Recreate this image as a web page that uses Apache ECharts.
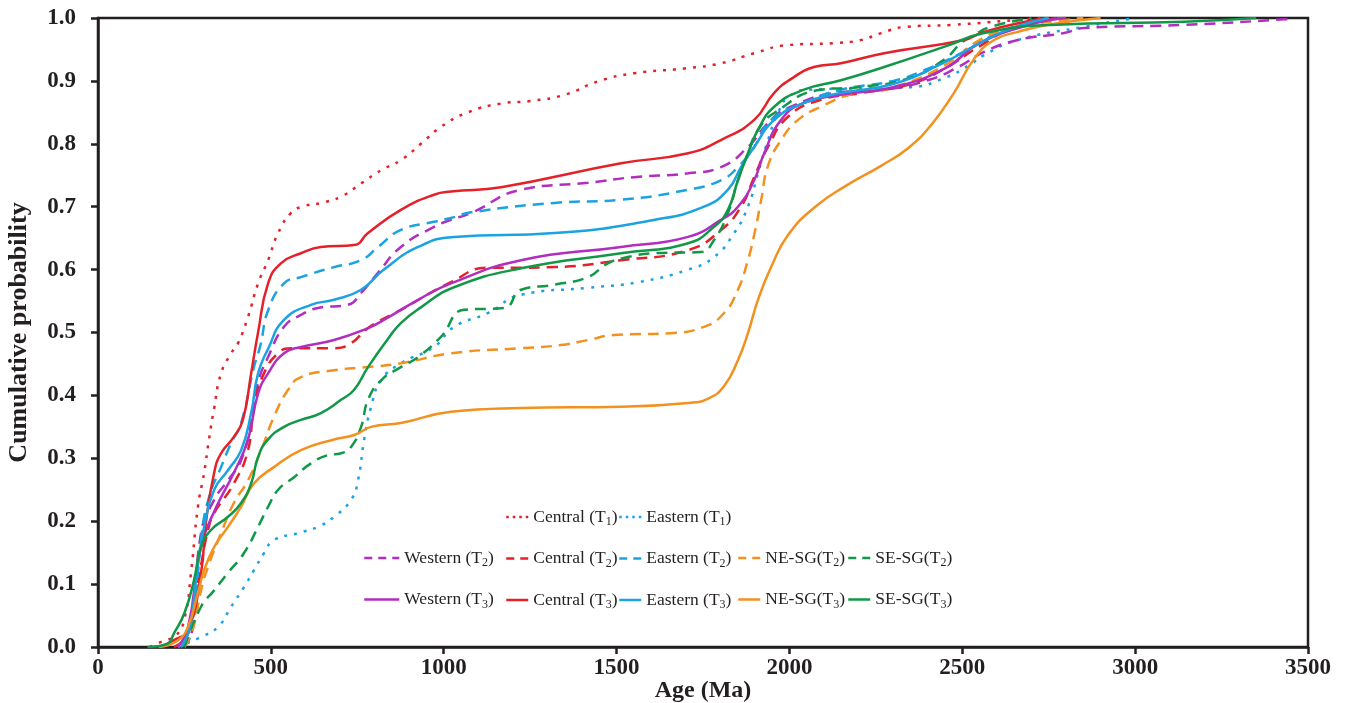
<!DOCTYPE html>
<html>
<head>
<meta charset="utf-8">
<script src="https://cdn.jsdelivr.net/npm/echarts@6/dist/echarts.min.js"></script>
<style>
  html, body { margin: 0; padding: 0; background: #fff; }
  #chart { width: 1347px; height: 703px; }
</style>
</head>
<body>
<div id="chart"></div>
<script>
// [age (Ma), cumulative probability]
const centralT1 = [[150,0],[190,0.01],[225,0.018],[250,0.045],[269,0.118],[289,0.223],[307,0.277],[321,0.33],[336,0.38],[356,0.435],[385,0.467],[405,0.483],[434,0.525],[463,0.578],[492,0.615],[521,0.658],[558,0.69],[590,0.70],[645,0.706],[703,0.716],[761,0.737],[819,0.758],[876,0.774],[934,0.80],[992,0.827],[1070,0.85],[1166,0.864],[1250,0.868],[1350,0.878],[1450,0.90],[1550,0.912],[1700,0.92],[1802,0.928],[1898,0.944],[1996,0.957],[2129,0.96],[2207,0.965],[2265,0.976],[2337,0.986],[2468,0.989],[2661,0.997],[2730,1]]
const easternT1 = [[231,0],[298,0.016],[347,0.032],[385,0.064],[422,0.095],[451,0.122],[480,0.149],[509,0.17],[578,0.181],[636,0.191],[683,0.207],[732,0.234],[752,0.265],[770,0.33],[790,0.382],[819,0.424],[876,0.451],[972,0.477],[1030,0.509],[1128,0.531],[1224,0.56],[1417,0.571],[1562,0.58],[1707,0.60],[1782,0.62],[1840,0.658],[1880,0.70],[1909,0.753],[1938,0.806],[1967,0.849],[1996,0.874],[2054,0.886],[2200,0.888],[2350,0.89],[2450,0.905],[2520,0.925],[2563,0.941],[2661,0.965],[2852,0.986],[3000,1]]
const westernT2 = [[240,0],[270,0.02],[298,0.181],[336,0.234],[376,0.265],[414,0.297],[443,0.356],[463,0.42],[492,0.461],[538,0.509],[587,0.528],[636,0.539],[723,0.544],[761,0.563],[810,0.595],[876,0.636],[972,0.668],[1021,0.679],[1079,0.69],[1224,0.727],[1417,0.738],[1550,0.747],[1707,0.753],[1802,0.763],[1880,0.795],[1938,0.833],[1996,0.857],[2149,0.882],[2274,0.886],[2400,0.901],[2488,0.922],[2563,0.946],[2661,0.965],[2794,0.976],[2852,0.984],[3141,0.989],[3431,0.998],[3460,1]]
const centralT2 = [[220,0],[260,0.02],[298,0.13],[320,0.19],[336,0.213],[393,0.26],[434,0.313],[451,0.382],[480,0.435],[521,0.467],[558,0.475],[683,0.475],[732,0.483],[781,0.507],[876,0.536],[1021,0.58],[1128,0.603],[1224,0.603],[1320,0.604],[1513,0.615],[1707,0.631],[1802,0.663],[1860,0.70],[1898,0.747],[1938,0.795],[1996,0.843],[2091,0.87],[2200,0.88],[2350,0.895],[2450,0.92],[2550,0.955],[2650,0.985],[2780,1]]
const easternT2 = [[250,0],[275,0.03],[298,0.17],[321,0.238],[356,0.286],[385,0.324],[414,0.356],[451,0.445],[470,0.48],[492,0.535],[538,0.578],[587,0.588],[683,0.604],[761,0.615],[810,0.636],[876,0.663],[972,0.676],[1021,0.682],[1079,0.691],[1320,0.706],[1513,0.711],[1707,0.727],[1802,0.742],[1851,0.763],[1898,0.795],[1947,0.838],[2042,0.865],[2149,0.886],[2300,0.9],[2390,0.917],[2500,0.945],[2600,0.975],[2700,0.993],[2800,1]]
const neT2 = [[250,0],[275,0.03],[298,0.09],[318,0.127],[356,0.181],[393,0.229],[434,0.265],[472,0.313],[509,0.366],[550,0.409],[587,0.429],[683,0.44],[781,0.445],[876,0.451],[1021,0.467],[1224,0.475],[1339,0.48],[1417,0.488],[1493,0.496],[1657,0.499],[1753,0.509],[1811,0.531],[1851,0.568],[1880,0.615],[1898,0.655],[1918,0.71],[1938,0.765],[1976,0.806],[2025,0.838],[2091,0.859],[2187,0.88],[2300,0.89],[2450,0.925],[2550,0.965],[2650,0.985],[2800,0.997],[2850,1]]
const seT2 = [[250,0],[298,0.064],[336,0.09],[376,0.118],[422,0.149],[463,0.191],[492,0.223],[521,0.25],[567,0.27],[616,0.292],[665,0.305],[703,0.308],[732,0.318],[761,0.35],[781,0.393],[819,0.424],[876,0.445],[926,0.461],[992,0.493],[1059,0.536],[1175,0.539],[1224,0.568],[1320,0.576],[1417,0.588],[1475,0.61],[1533,0.62],[1608,0.626],[1744,0.628],[1782,0.647],[1822,0.69],[1851,0.742],[1880,0.785],[1909,0.822],[1956,0.849],[2091,0.886],[2200,0.89],[2350,0.905],[2450,0.935],[2496,0.96],[2534,0.973],[2583,0.986],[2700,1]]
const westernT3 = [[230,0],[260,0.03],[298,0.159],[340,0.22],[393,0.277],[434,0.33],[463,0.403],[492,0.435],[538,0.467],[587,0.477],[683,0.488],[781,0.507],[827,0.52],[926,0.552],[1021,0.578],[1224,0.615],[1513,0.636],[1707,0.652],[1802,0.679],[1851,0.70],[1898,0.742],[1927,0.785],[1976,0.838],[2042,0.865],[2149,0.878],[2300,0.89],[2450,0.92],[2550,0.96],[2700,0.99],[2800,1]]
const centralT3 = [[180,0],[220,0.011],[260,0.027],[298,0.118],[312,0.197],[336,0.277],[356,0.308],[393,0.334],[419,0.361],[443,0.435],[463,0.5],[492,0.578],[529,0.61],[587,0.626],[645,0.636],[741,0.639],[781,0.658],[876,0.695],[972,0.719],[1021,0.724],[1166,0.731],[1513,0.769],[1707,0.785],[1802,0.806],[1898,0.838],[1956,0.881],[2013,0.906],[2071,0.922],[2149,0.928],[2274,0.944],[2505,0.965],[2563,0.978],[2708,0.997],[2750,1]]
const easternT3 = [[240,0],[265,0.03],[286,0.118],[307,0.191],[336,0.25],[376,0.281],[414,0.313],[443,0.372],[463,0.435],[492,0.474],[538,0.52],[616,0.544],[683,0.552],[761,0.568],[827,0.60],[926,0.636],[1030,0.652],[1320,0.658],[1608,0.679],[1753,0.70],[1822,0.727],[1860,0.763],[1898,0.795],[1956,0.838],[2042,0.865],[2149,0.881],[2300,0.895],[2450,0.93],[2550,0.96],[2650,0.985],[2750,1]]
const neT3 = [[175,0],[230,0.01],[260,0.032],[289,0.086],[307,0.122],[336,0.159],[376,0.191],[414,0.223],[451,0.26],[509,0.286],[587,0.313],[683,0.33],[741,0.337],[790,0.35],[876,0.356],[1021,0.374],[1224,0.38],[1513,0.382],[1707,0.388],[1765,0.395],[1811,0.415],[1851,0.456],[1880,0.499],[1909,0.552],[1947,0.604],[1996,0.655],[2075,0.70],[2169,0.735],[2265,0.765],[2343,0.793],[2410,0.83],[2476,0.881],[2534,0.935],[2592,0.965],[2661,0.978],[2757,0.99],[2900,1]]
const seT3 = [[143,0],[200,0.005],[220,0.022],[250,0.054],[278,0.107],[298,0.159],[327,0.186],[376,0.207],[414,0.229],[443,0.26],[463,0.302],[492,0.33],[538,0.35],[587,0.361],[645,0.372],[703,0.393],[741,0.409],[781,0.445],[839,0.49],[876,0.515],[934,0.54],[1030,0.572],[1224,0.602],[1513,0.626],[1707,0.642],[1782,0.668],[1822,0.695],[1851,0.742],[1880,0.785],[1909,0.822],[1956,0.859],[2042,0.886],[2149,0.901],[2274,0.922],[2447,0.954],[2563,0.976],[2757,0.989],[3141,0.994],[3350,1]]

const RED = "#e42128", BLUE = "#1ba3e1", PURPLE = "#b22dc0", ORANGE = "#f3911f", GREEN = "#109848"
const INK = "#231f20"
const DOT = [3, 7], DASH = [11, 7]

const defs = [
  ["Central (T1)", centralT1, RED, DOT],
  ["Eastern (T1)", easternT1, BLUE, DOT],
  ["Western (T2)", westernT2, PURPLE, DASH],
  ["Central (T2)", centralT2, RED, DASH],
  ["Eastern (T2)", easternT2, BLUE, DASH],
  ["NE-SG(T2)", neT2, ORANGE, DASH],
  ["SE-SG(T2)", seT2, GREEN, DASH],
  ["Western (T3)", westernT3, PURPLE, "solid"],
  ["Central (T3)", centralT3, RED, "solid"],
  ["Eastern (T3)", easternT3, BLUE, "solid"],
  ["NE-SG(T3)", neT3, ORANGE, "solid"],
  ["SE-SG(T3)", seT3, GREEN, "solid"]
]
const legendType = { [String(DOT)]: [2.5, 4], [String(DASH)]: [8, 6], solid: "solid" }

const series = defs.map(([name, data, color, type]) => ({
  name,
  type: "line",
  data,
  symbol: "none",
  smooth: 0.5,
  color,
  lineStyle: { color, width: 2.5, type }
}))

// 图例：每列一个
const legendItem = name => {
  const d = defs.find(x => x[0] === name)
  return { name, lineStyle: { type: legendType[String(d[3])], width: 2.5 } }
}
const legendCol = (left, top, names, itemWidth = 22) => ({
  orient: "vertical",
  left, top,
  padding: 0,
  itemGap: 21.5,
  itemWidth,
  itemHeight: 14,
  itemStyle: { opacity: 0 },
  selectedMode: false,
  data: names.map(legendItem),
  formatter: name => {
    const m = name.match(/^(.*\(T)(\d)(\))$/)
    return "{b|" + m[1] + "}{s|" + m[2] + "}{b|)}"
  },
  textStyle: {
    color: INK,
    fontFamily: "Liberation Serif",
    rich: {
      b: { fontSize: 17.5, lineHeight: 22, color: INK, fontFamily: "Liberation Serif" },
      s: { fontSize: 12, lineHeight: 12, color: INK, fontFamily: "Liberation Serif", verticalAlign: "bottom" }
    }
  }
})

const axisFont = { color: INK, fontFamily: "Liberation Serif", fontWeight: "bold", fontSize: 23 }

const chart = echarts.init(document.getElementById("chart"), null, { renderer: "canvas" })
chart.setOption({
  animation: false,
  backgroundColor: "#fff",
  grid: {
    left: 98, right: 39, top: 18, bottom: 56,
    outerBoundsMode: "none",
    show: true, borderColor: INK, borderWidth: 2.5
  },
  xAxis: {
    type: "value", min: 0, max: 3500, interval: 500,
    name: "Age (Ma)", nameLocation: "middle", nameGap: 32, nameMoveOverlap: false,
    nameTextStyle: { color: INK, fontFamily: "Liberation Serif", fontWeight: "bold", fontSize: 24 },
    axisLine: { onZero: false, lineStyle: { color: INK, width: 2.5 } },
    axisTick: { length: 7, lineStyle: { color: INK, width: 2.5 } },
    axisLabel: { ...axisFont, margin: 10, formatter: v => String(v) },
    splitLine: { show: false }
  },
  yAxis: {
    type: "value", min: 0, max: 1, interval: 0.1,
    name: "Cumulative probability", nameLocation: "middle", nameGap: 66, nameMoveOverlap: false,
    nameTextStyle: { color: INK, fontFamily: "Liberation Serif", fontWeight: "bold", fontSize: 26 },
    axisLine: { show: true, lineStyle: { color: INK, width: 2.5 } },
    axisTick: { show: true, length: 7, lineStyle: { color: INK, width: 2.5 } },
    axisLabel: { ...axisFont, margin: 22, formatter: v => v.toFixed(1) },
    splitLine: { show: false }
  },
  legend: [
    legendCol(363, 549, ["Western (T2)", "Western (T3)"], 35),
    legendCol(505, 508, ["Central (T1)", "Central (T2)", "Central (T3)"]),
    legendCol(618, 508, ["Eastern (T1)", "Eastern (T2)", "Eastern (T3)"]),
    legendCol(737, 549, ["NE-SG(T2)", "NE-SG(T3)"]),
    legendCol(847, 549, ["SE-SG(T2)", "SE-SG(T3)"])
  ],
  series
})
</script>
</body>
</html>
